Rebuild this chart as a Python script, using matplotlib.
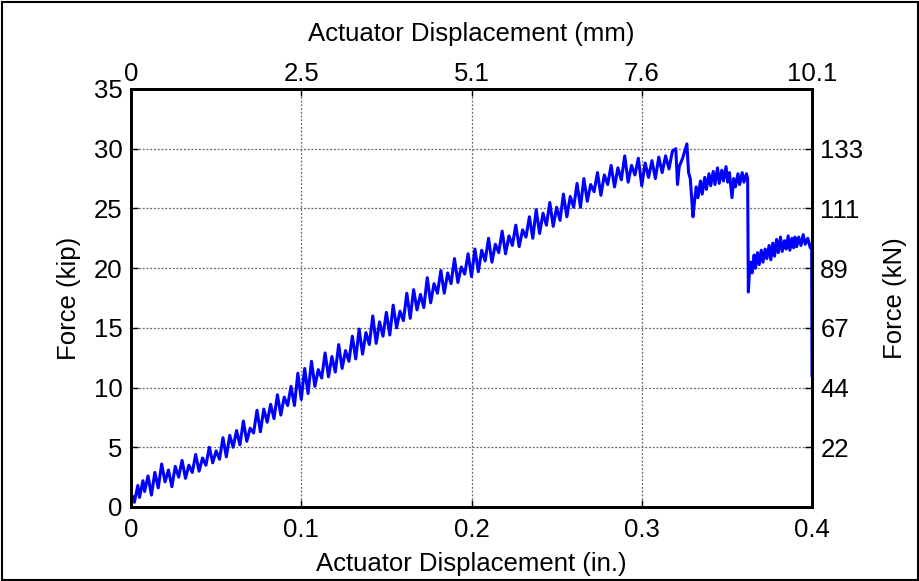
import matplotlib
matplotlib.use("Agg")
import matplotlib.pyplot as plt
from matplotlib.patches import Rectangle

plt.rcParams["font.family"] = ["Liberation Sans", "DejaVu Sans"]

# actuator displacement (in.) and force (kip)
disp_in = [
    0.000, 0.001, 0.002, 0.004, 0.005, 0.007, 0.008, 0.010, 0.012, 0.014,
    0.016, 0.018, 0.020, 0.022, 0.024, 0.026, 0.028, 0.030, 0.032, 0.034,
    0.036, 0.038, 0.040, 0.042, 0.044, 0.046, 0.048, 0.050,
    0.052, 0.054, 0.056, 0.058, 0.060, 0.062, 0.064, 0.066, 0.068, 0.070,
    0.072, 0.074, 0.076, 0.078, 0.080, 0.082, 0.084, 0.086, 0.088, 0.090,
    0.092, 0.094, 0.096, 0.098, 0.100,
    0.102, 0.104, 0.106, 0.108, 0.110, 0.112, 0.114, 0.116, 0.118, 0.120,
    0.122, 0.124, 0.126, 0.128, 0.130, 0.132, 0.134, 0.136, 0.138, 0.140,
    0.142, 0.144, 0.146, 0.148, 0.150,
    0.152, 0.154, 0.156, 0.158, 0.160, 0.162, 0.164, 0.166, 0.168, 0.170,
    0.172, 0.174, 0.176, 0.178, 0.180, 0.182, 0.184, 0.186, 0.188, 0.190,
    0.192, 0.194, 0.196, 0.198, 0.200,
    0.202, 0.204, 0.206, 0.208, 0.210, 0.212, 0.214, 0.216, 0.218, 0.220,
    0.222, 0.224, 0.226, 0.228, 0.230, 0.232, 0.234, 0.236, 0.238, 0.240,
    0.242, 0.244, 0.246, 0.248, 0.250,
    0.252, 0.254, 0.256, 0.258, 0.260, 0.262, 0.264, 0.266, 0.268, 0.270,
    0.272, 0.274, 0.276, 0.278, 0.280, 0.282, 0.284, 0.286, 0.288, 0.290,
    0.292, 0.294, 0.296, 0.298, 0.300, 0.302, 0.304, 0.306, 0.308, 0.310,
    0.312, 0.314, 0.316, 0.318, 0.320, 0.321, 0.322, 0.324, 0.3265, 0.3275,
    0.3285, 0.3301,
    0.3310, 0.3320, 0.3330, 0.3345, 0.3355, 0.3370, 0.3380, 0.3395, 0.3405, 0.3420,
    0.3430, 0.3445, 0.3455, 0.3470, 0.3480, 0.3495, 0.3505, 0.3515, 0.3530, 0.3540,
    0.3550, 0.3565, 0.3575, 0.3590, 0.3600, 0.3615, 0.3622,
    0.3626, 0.3632, 0.3640, 0.3648, 0.3660, 0.3668, 0.3680, 0.3690, 0.3702, 0.3712,
    0.3725, 0.3735, 0.3748, 0.3758, 0.3770, 0.3780, 0.3792, 0.3802, 0.3815, 0.3825,
    0.3838, 0.3848, 0.3860, 0.3870, 0.3882, 0.3892, 0.3900, 0.3910, 0.3922, 0.3935,
    0.3948, 0.3960, 0.3975, 0.3990, 0.3998, 0.4000,
]
force_kip = [
    0.3, 0.9, 0.4, 1.8, 0.8, 2.2, 1.3, 2.6, 1.0, 2.9,
    1.6, 3.6, 2.1, 3.1, 1.7, 3.4, 2.5, 3.9, 2.4, 3.5,
    2.9, 4.4, 3.0, 4.1, 3.5, 5.0, 3.7, 4.7,
    4.0, 5.8, 4.2, 6.0, 5.0, 6.4, 5.2, 7.2, 5.5, 6.6,
    6.2, 8.1, 6.3, 8.2, 7.1, 8.6, 7.4, 9.4, 7.7, 9.2,
    8.5, 10.1, 8.5, 11.2, 9.0,
    11.6, 9.5, 12.2, 10.1, 11.5, 10.8, 12.9, 10.9, 12.6, 11.3,
    13.6, 11.6, 13.1, 12.2, 14.3, 12.4, 14.9, 12.8, 14.6, 13.6,
    16.0, 13.7, 15.5, 14.3, 16.3,
    14.4, 16.9, 15.0, 16.4, 15.6, 17.9, 15.8, 18.2, 16.5, 17.8,
    16.7, 19.2, 17.1, 18.7, 17.9, 19.8, 17.9, 19.6, 18.7, 20.8,
    18.8, 20.1, 19.5, 21.2, 19.3,
    21.6, 19.7, 21.5, 20.6, 22.5, 20.5, 22.0, 21.3, 23.1, 21.2,
    22.7, 21.9, 23.6, 21.8, 23.2, 22.6, 24.3, 22.5, 24.9, 22.9,
    24.6, 23.6, 25.5, 23.5, 25.1,
    24.0, 26.2, 24.3, 26.0, 25.1, 27.1, 25.1, 27.5, 25.6, 27.0,
    26.4, 28.0, 26.1, 27.8, 27.0, 28.6, 26.8, 28.4, 27.4, 29.4,
    27.2, 28.6, 27.8, 29.2, 26.9, 28.8, 27.6, 29.0, 27.5, 29.3,
    28.0, 29.4, 28.3, 29.8, 30.0, 27.0, 28.5, 29.2, 30.4, 28.0,
    27.5, 24.3,
    25.6, 26.8, 25.9, 27.3, 26.2, 27.6, 26.6, 27.9, 26.9, 28.1,
    27.0, 28.4, 27.1, 28.2, 27.3, 28.5, 27.2, 28.0, 25.9, 27.5,
    26.8, 27.9, 27.0, 28.0, 27.2, 27.9, 27.5,
    18.0, 19.5, 20.5, 19.6, 21.1, 20.0, 21.3, 20.3, 21.5, 20.5,
    21.6, 20.8, 21.9, 20.7, 22.1, 21.0, 22.4, 21.3, 22.6, 21.4,
    22.3, 21.6, 22.7, 21.5, 22.5, 21.7, 22.6, 21.8, 22.6, 21.9,
    22.8, 22.0, 22.5, 21.7, 22.0, 11.0,
]

x_ticks = [0, 0.1, 0.2, 0.3, 0.4]
y_ticks = [0, 5, 10, 15, 20, 25, 30, 35]
mm_labels = ["0", "2.5", "5.1", "7.6", "10.1"]
kn_ticks = [5, 10, 15, 20, 25, 30]
kn_labels = ["22", "44", "67", "89", "111", "133"]

FS = 18.5

fig = plt.figure(figsize=(9.2, 5.81), dpi=100)
ax = fig.add_axes([131 / 920, 74 / 581, 681 / 920, 418 / 581])

ax.plot(disp_in, force_kip, color="#0000ff", linewidth=2.2)
ax.set_xlim(0, 0.4)
ax.set_ylim(0, 35)
ax.set_xticks(x_ticks)
ax.set_xticklabels(["0", "0.1", "0.2", "0.3", "0.4"])
ax.set_yticks(y_ticks)
ax.grid(True, color="#666666", linestyle=(0, (1.5, 1.5)), linewidth=0.9)
ax.tick_params(direction="in", length=5, width=1, labelsize=FS, pad=6)
ax.tick_params(axis="x", pad=8)
for s in ax.spines.values():
    s.set_linewidth(2)
ax.set_xlabel("Actuator Displacement (in.)", fontsize=FS, labelpad=7)
ax.set_ylabel("Force (kip)", fontsize=FS, labelpad=9)

# top axis: mm
top = ax.twiny()
top.set_xlim(ax.get_xlim())
top.set_xticks(x_ticks)
top.set_xticklabels(mm_labels)
top.tick_params(direction="in", length=5, width=1, labelsize=FS, pad=2)
top.set_xlabel("Actuator Displacement (mm)", fontsize=FS, labelpad=15)

# right axis: kN
right = ax.twinx()
right.set_ylim(ax.get_ylim())
right.set_yticks(kn_ticks)
right.set_yticklabels(kn_labels)
right.tick_params(direction="in", length=5, width=1, labelsize=FS, pad=6)
right.set_ylabel("Force (kN)", fontsize=FS, labelpad=14)
for a in (top, right):
    for s in a.spines.values():
        s.set_linewidth(2)

fig.patches.append(Rectangle((0.002, 0.002), 0.996, 0.994, transform=fig.transFigure,
                             fill=False, edgecolor="black", linewidth=1.5))

fig.savefig("out.png", dpi=100)
